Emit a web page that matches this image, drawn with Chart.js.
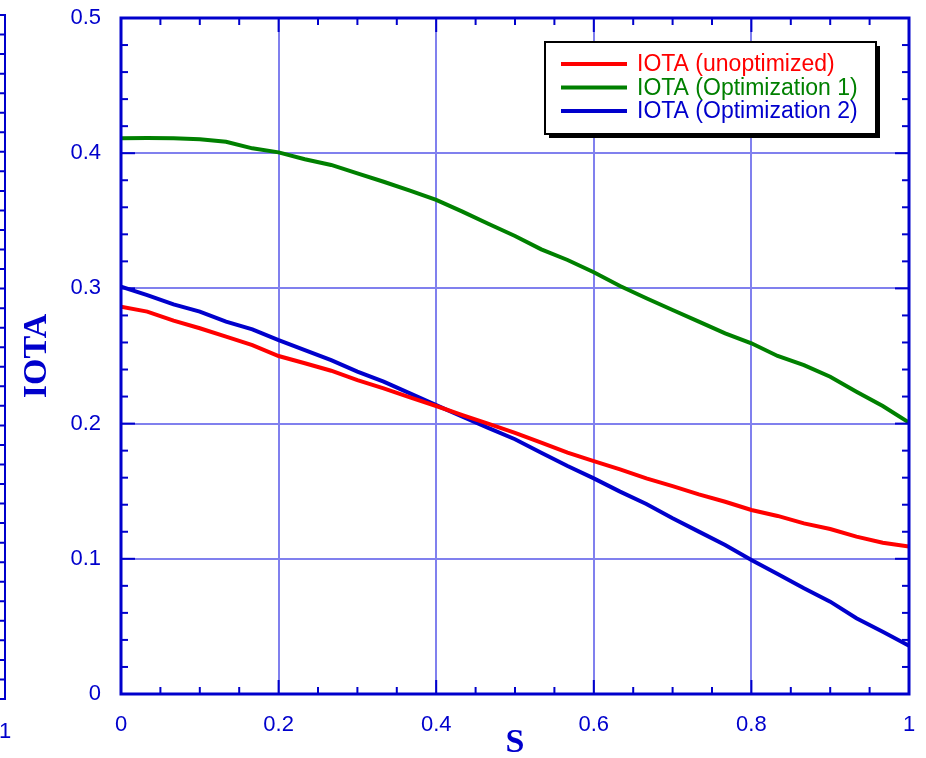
<!DOCTYPE html>
<html>
<head>
<meta charset="utf-8">
<title>IOTA vs S</title>
<script src="https://cdn.jsdelivr.net/npm/chart.js@4.4.1/dist/chart.umd.min.js"></script>
<style>
  body { margin: 0; background: #fff; }
  #wrap { width: 926px; height: 758px; }
</style>
</head>
<body>
<div id="wrap"><canvas id="iotaChart" width="926" height="758"></canvas></div>
<script>
// S coordinate (x)
const sValues = [0, 0.0333, 0.0667, 0.1, 0.1333, 0.1667, 0.2, 0.2333, 0.2667, 0.3, 0.3333,
  0.3667, 0.4, 0.4333, 0.4667, 0.5, 0.5333, 0.5667, 0.6, 0.6333, 0.6667,
  0.7, 0.7333, 0.7667, 0.8, 0.8333, 0.8667, 0.9, 0.9333, 0.9667, 1];

const iotaUnoptimized = [0.2865, 0.2828, 0.2761, 0.2705, 0.2643, 0.2581, 0.25, 0.2446, 0.2391, 0.2322, 0.2261,
  0.2194, 0.213, 0.2063, 0.1998, 0.1932, 0.1859, 0.1785, 0.1723, 0.1662, 0.1595,
  0.1538, 0.1477, 0.1422, 0.1361, 0.1317, 0.1262, 0.122, 0.1164, 0.1119, 0.109];

const iotaOpt1 = [0.411, 0.4112, 0.4111, 0.4103, 0.4085, 0.4036, 0.4006, 0.3955, 0.3913, 0.3851, 0.3789,
  0.3723, 0.3654, 0.3568, 0.3476, 0.3388, 0.3289, 0.321, 0.3119, 0.3018, 0.2927,
  0.284, 0.2754, 0.2668, 0.2594, 0.25, 0.2433, 0.2347, 0.2236, 0.213, 0.2007];

const iotaOpt2 = [0.3013, 0.2951, 0.2882, 0.2828, 0.2754, 0.2697, 0.2618, 0.2544, 0.247, 0.2384, 0.231,
  0.2224, 0.2137, 0.2051, 0.1967, 0.1884, 0.1785, 0.1686, 0.1595, 0.1497, 0.1405,
  0.13, 0.1201, 0.1102, 0.0991, 0.0888, 0.0782, 0.0683, 0.056, 0.0461, 0.0357];

const seriesLabels = ["IOTA (unoptimized)", "IOTA (Optimization 1)", "IOTA (Optimization 2)"];
const seriesColors = ["#ff0000", "#008000", "#0000cc"];

// axis ranges / tick steps
const xRange = [0, 1];
const yRange = [0, 0.5];
const xMajorStep = 0.2;
const xMinorStep = 0.05;
const yMajorStep = 0.1;
const yMinorStep = 0.02;

const AXIS_BLUE = "#0000cc";
const GRID_BLUE = "#8080ee";
const SANS = "'Liberation Sans', Arial, sans-serif";
const SERIF = "'Liberation Serif', 'Times New Roman', serif";

const toPoints = (ys) => ys.map((y, i) => ({ x: sValues[i], y: y }));
const tickText = (v) => String(Number(v.toFixed(2)));

// frame + inward ticks on all four sides
const frameTicks = {
  id: "frameTicks",
  afterDatasetsDraw(chart) {
    const { ctx, chartArea: a, scales } = chart;
    const mark = (x1, y1, x2, y2) => {
      ctx.beginPath();
      ctx.moveTo(x1, y1);
      ctx.lineTo(x2, y2);
      ctx.stroke();
    };
    ctx.save();
    ctx.strokeStyle = AXIS_BLUE;
    ctx.lineWidth = 2;
    const nx = Math.round((xRange[1] - xRange[0]) / xMinorStep);
    const perX = Math.round(xMajorStep / xMinorStep);
    for (let i = 0; i <= nx; i++) {
      const px = scales.x.getPixelForValue(xRange[0] + i * xMinorStep);
      const len = i % perX === 0 ? 14 : 7;
      mark(px, a.bottom, px, a.bottom - len);
      mark(px, a.top, px, a.top + len);
    }
    const ny = Math.round((yRange[1] - yRange[0]) / yMinorStep);
    const perY = Math.round(yMajorStep / yMinorStep);
    for (let i = 0; i <= ny; i++) {
      const py = scales.y.getPixelForValue(yRange[0] + i * yMinorStep);
      const len = i % perY === 0 ? 14 : 7;
      mark(a.left, py, a.left + len, py);
      mark(a.right, py, a.right - len, py);
    }
    ctx.lineWidth = 3;
    ctx.strokeRect(a.left, a.top, a.width, a.height);
    ctx.restore();
  },
};

// legend box with drop shadow
const boxLegend = {
  id: "boxLegend",
  afterDraw(chart) {
    const { ctx } = chart;
    const bx = 545, by = 42, bw = 331, bh = 92;
    ctx.save();
    ctx.fillStyle = "#000";
    ctx.fillRect(bx + 4, by + 4, bw, bh);
    ctx.fillStyle = "#fff";
    ctx.fillRect(bx, by, bw, bh);
    ctx.strokeStyle = "#000";
    ctx.lineWidth = 2;
    ctx.strokeRect(bx, by, bw, bh);
    ctx.font = "23px " + SANS;
    ctx.textBaseline = "middle";
    chart.data.datasets.forEach((ds, i) => {
      const y = by + 22 + i * 23.5;
      ctx.strokeStyle = ds.borderColor;
      ctx.lineWidth = 4;
      ctx.beginPath();
      ctx.moveTo(bx + 16, y);
      ctx.lineTo(bx + 82, y);
      ctx.stroke();
      ctx.fillStyle = ds.borderColor;
      ctx.fillText(ds.label, bx + 92, y + 1);
    });
    ctx.restore();
  },
};

// edge of the neighbouring plot cut off at the left border
const neighbourEdge = {
  id: "neighbourEdge",
  afterDraw(chart) {
    const { ctx } = chart;
    const top = 15, bottom = 699, x = 5, steps = 35;
    ctx.save();
    ctx.strokeStyle = AXIS_BLUE;
    ctx.lineWidth = 2;
    ctx.beginPath();
    ctx.moveTo(0, top);
    ctx.lineTo(x, top);
    ctx.lineTo(x, bottom);
    ctx.lineTo(0, bottom);
    for (let i = 1; i < steps; i++) {
      const y = top + (i * (bottom - top)) / steps;
      ctx.moveTo(x, y);
      ctx.lineTo(0, y);
    }
    ctx.stroke();
    ctx.fillStyle = AXIS_BLUE;
    ctx.font = "22px " + SANS;
    ctx.textAlign = "center";
    ctx.textBaseline = "middle";
    ctx.fillText("1", x, 732);
    ctx.restore();
  },
};

const ctx = document.getElementById("iotaChart");

new Chart(ctx, {
  type: "line",
  data: {
    datasets: [iotaUnoptimized, iotaOpt1, iotaOpt2].map((ys, i) => ({
      label: seriesLabels[i],
      data: toPoints(ys),
      borderColor: seriesColors[i],
      backgroundColor: seriesColors[i],
      borderWidth: 4,
      pointRadius: 0,
      tension: 0,
      fill: false,
    })),
  },
  options: {
    responsive: false,
    animation: false,
    layout: { padding: { top: 18, right: 17, bottom: 0, left: 0 } },
    plugins: {
      legend: { display: false },
      tooltip: { enabled: false },
    },
    scales: {
      x: {
        type: "linear",
        min: xRange[0],
        max: xRange[1],
        afterFit: (scale) => {
          scale.height = 64;
          scale.paddingLeft = 0;
          scale.paddingRight = 0;
        },
        ticks: {
          stepSize: xMajorStep,
          color: AXIS_BLUE,
          padding: 18,
          maxRotation: 0,
          font: { family: SANS, size: 22 },
          callback: tickText,
        },
        grid: { color: GRID_BLUE, lineWidth: 2, drawTicks: false },
        border: { display: false },
        title: {
          display: true,
          text: "S",
          color: AXIS_BLUE,
          font: { family: SERIF, size: 34, weight: "bold", lineHeight: 0.8 },
          padding: { top: 0, bottom: 1 },
        },
      },
      y: {
        type: "linear",
        min: yRange[0],
        max: yRange[1],
        afterFit: (scale) => {
          scale.width = 121;
          scale.paddingTop = 0;
          scale.paddingBottom = 0;
        },
        ticks: {
          stepSize: yMajorStep,
          color: AXIS_BLUE,
          padding: 20,
          font: { family: SANS, size: 22 },
          callback: tickText,
        },
        grid: { color: GRID_BLUE, lineWidth: 2, drawTicks: false },
        border: { display: false },
        title: {
          display: true,
          text: "IOTA",
          color: AXIS_BLUE,
          font: { family: SERIF, size: 34, weight: "bold", lineHeight: 0.8 },
          padding: { top: 24, bottom: 0 },
        },
      },
    },
  },
  plugins: [frameTicks, boxLegend, neighbourEdge],
});
</script>
</body>
</html>
